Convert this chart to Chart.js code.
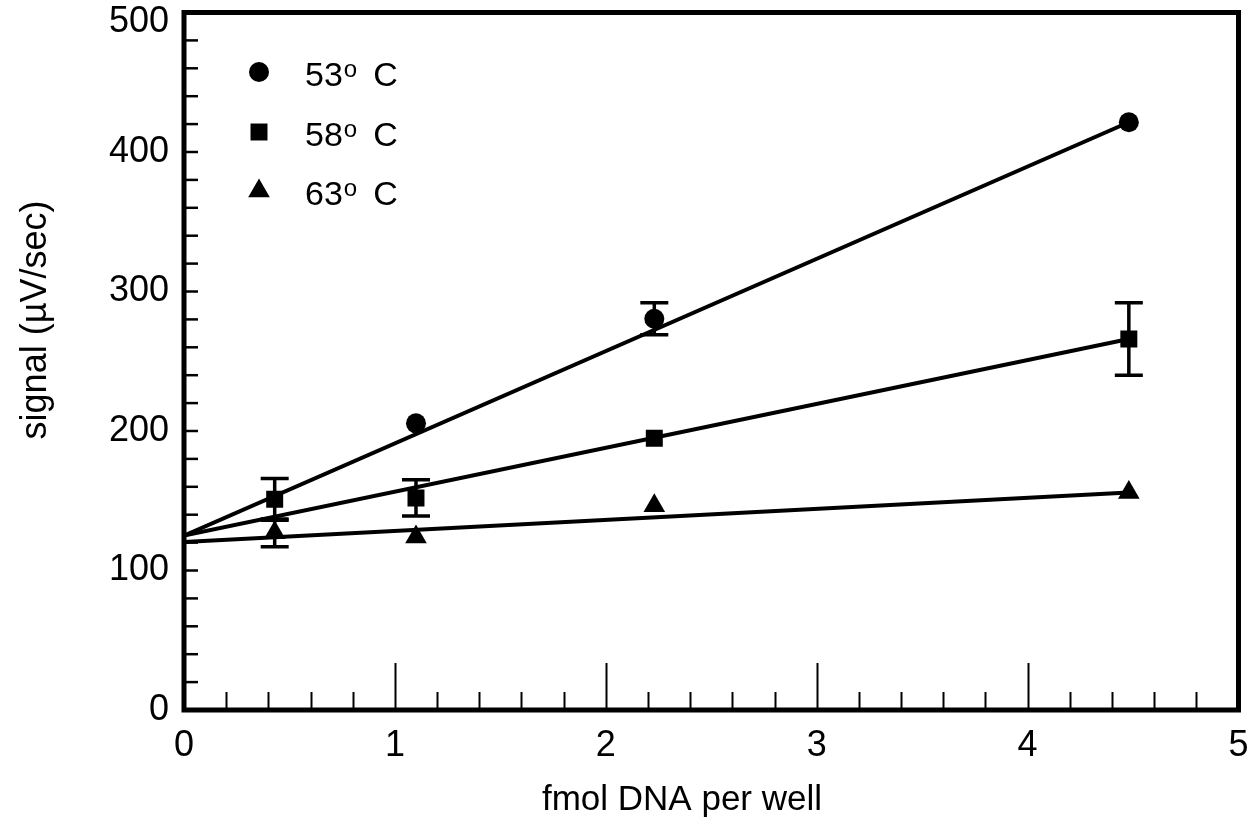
<!DOCTYPE html>
<html>
<head>
<meta charset="utf-8">
<title>signal vs fmol DNA per well</title>
<script src="https://cdn.jsdelivr.net/npm/chart.js@4.4.0/dist/chart.umd.min.js"></script>
<style>
  html, body { margin: 0; padding: 0; background: #fff; }
  canvas { display: block; }
</style>
</head>
<body>
<canvas id="chart" width="1251" height="831"></canvas>
<script>
// fmol DNA per well
const doses = [0.43, 1.1, 2.23, 4.48];
const tempLabels = ['53', '58', '63'];
// signal (uV/sec) for each temperature
const signal53 = [null, 205.5, 280.5, 421.3];
const signal58 = [151, 152, 194.8, 266];
const signal63 = [127, 124, 146.5, 156];
// half length of the error bars (0 = none drawn)
const err53 = [0, 0, 11.5, 0];
const err58 = [15, 13, 0, 26];
const err63 = [10, 0, 0, 0];
// fitted lines, read at x = 0 and at the last dose
const fitX = [0, 4.48];
const fit53 = [125, 421.3];
const fit58 = [125, 266];
const fit63 = [120.5, 156];
// axis labels
const xTicks = [0, 1, 2, 3, 4, 5];
const yTicks = [0, 100, 200, 300, 400, 500];
const xTitle = 'fmol DNA per well';
const yTitle = 'signal (\u00b5V/sec)';

const FONT = "'Liberation Sans', Arial, Helvetica, sans-serif";

function toPoints(xs, ys) {
    const pts = [];
    xs.forEach((x, i) => {
        if (ys[i] !== null) pts.push({ x: x, y: ys[i] });
    });
    return pts;
}

const series = [
    { values: signal53, errors: err53, fit: fit53, style: 'circle', radius: 10 },
    { values: signal58, errors: err58, fit: fit58, style: 'rect', radius: 12 },
    { values: signal63, errors: err63, fit: fit63, style: 'triangle', radius: 12.5 }
];

const datasets = [];
// lines first so the markers sit on top of them
series.forEach(s => {
    datasets.push({
        data: toPoints(fitX, s.fit),
        showLine: true,
        borderColor: '#000',
        borderWidth: 4,
        pointRadius: 0,
        order: 2
    });
});
series.forEach((s, i) => {
    datasets.push({
        label: tempLabels[i],
        data: toPoints(doses, s.values),
        showLine: false,
        pointStyle: s.style,
        pointRadius: s.radius,
        pointBackgroundColor: '#000',
        pointBorderWidth: 0,
        order: 1
    });
});

// frame, inside ticks, error bars, axis titles and legend
const decorPlugin = {
    id: 'decor',
    beforeDatasetsDraw(chart) {
        const ctx = chart.ctx;
        const xs = chart.scales.x, ys = chart.scales.y;
        ctx.save();
        ctx.strokeStyle = '#000';
        ctx.lineWidth = 3.5;
        series.forEach(s => {
            s.values.forEach((v, i) => {
                const e = s.errors[i];
                if (v === null || !e) return;
                const px = xs.getPixelForValue(doses[i]);
                const top = ys.getPixelForValue(v + e);
                const bot = ys.getPixelForValue(v - e);
                ctx.beginPath();
                ctx.moveTo(px, top); ctx.lineTo(px, bot);
                ctx.moveTo(px - 14, top); ctx.lineTo(px + 14, top);
                ctx.moveTo(px - 14, bot); ctx.lineTo(px + 14, bot);
                ctx.stroke();
            });
        });
        ctx.restore();
    },
    afterDraw(chart) {
        const ctx = chart.ctx;
        const area = chart.chartArea;
        const xs = chart.scales.x, ys = chart.scales.y;
        ctx.save();
        ctx.strokeStyle = '#000';

        // minor ticks every 0.2 on x, longer at the whole numbers
        ctx.lineWidth = 2;
        for (let k = 1; k < 25; k++) {
            const px = Math.round(xs.getPixelForValue(k * 0.2)) + 0.5;
            const len = (k % 5 === 0) ? 47 : 18;
            ctx.beginPath();
            ctx.moveTo(px, area.bottom);
            ctx.lineTo(px, area.bottom - len);
            ctx.stroke();
        }
        // ticks every 20 on y
        ctx.lineWidth = 2.5;
        for (let v = 20; v < 500; v += 20) {
            const py = ys.getPixelForValue(v);
            ctx.beginPath();
            ctx.moveTo(area.left, py);
            ctx.lineTo(area.left + 14, py);
            ctx.stroke();
        }

        // heavy box round the plot
        ctx.lineWidth = 5;
        ctx.strokeRect(area.left, area.top, area.right - area.left, area.bottom - area.top);

        ctx.fillStyle = '#000';

        // axis titles (both sit a little off the centre of their axis)
        ctx.textAlign = 'center';
        ctx.textBaseline = 'middle';
        ctx.font = '35px ' + FONT;
        ctx.fillText(xTitle, 682, 800);

        ctx.save();
        ctx.translate(36, 320);
        ctx.rotate(-Math.PI / 2);
        ctx.font = '36px ' + FONT;
        ctx.fillText(yTitle, 0, 0);
        ctx.restore();

        // legend
        const rowY = [72, 132, 191];
        ctx.textBaseline = 'alphabetic';
        ctx.textAlign = 'left';
        series.forEach((s, i) => {
            Chart.helpers.drawPoint(ctx, {
                pointStyle: s.style,
                radius: s.radius,
                borderWidth: 0,
                rotation: 0
            }, 259, rowY[i]);
            const base = rowY[i] + 14;
            ctx.font = '34px ' + FONT;
            ctx.fillText(tempLabels[i], 305, base);
            let x = 305 + ctx.measureText(tempLabels[i]).width + 1;
            ctx.font = '24px ' + FONT;
            ctx.fillText('o', x, base - 9);
            x += ctx.measureText('o').width + 16;
            ctx.font = '34px ' + FONT;
            ctx.fillText('C', x, base);
        });
        ctx.restore();
    }
};

new Chart(document.getElementById('chart'), {
    type: 'scatter',
    data: { datasets: datasets },
    options: {
        responsive: false,
        animation: false,
        events: [],
        layout: { padding: { top: 12, right: 11, left: 0, bottom: 0 } },
        plugins: {
            legend: { display: false },
            tooltip: { enabled: false }
        },
        scales: {
            x: {
                type: 'linear',
                min: 0,
                max: 5,
                afterBuildTicks: scale => { scale.ticks = xTicks.map(v => ({ value: v })); },
                afterFit: scale => {
                    scale.height = 121;
                    scale.paddingLeft = 0;
                    scale.paddingRight = 0;
                },
                grid: { display: false, drawTicks: false },
                border: { display: false },
                ticks: {
                    color: '#000',
                    padding: 14,
                    maxRotation: 0,
                    font: { family: FONT, size: 36 }
                }
            },
            y: {
                type: 'linear',
                min: 0,
                max: 500,
                afterBuildTicks: scale => { scale.ticks = yTicks.map(v => ({ value: v })); },
                afterFit: scale => {
                    scale.width = 184;
                    scale.paddingTop = 0;
                    scale.paddingBottom = 0;
                },
                grid: { display: false, drawTicks: false },
                border: { display: false },
                ticks: {
                    color: '#000',
                    padding: 15,
                    // top label is pushed down a little so it stays on the page
                    callback: v => (v === 500 ? ['', '500'] : String(v)),
                    font: { family: FONT, size: 36, lineHeight: 0.55 }
                }
            }
        }
    },
    plugins: [decorPlugin]
});
</script>
</body>
</html>
